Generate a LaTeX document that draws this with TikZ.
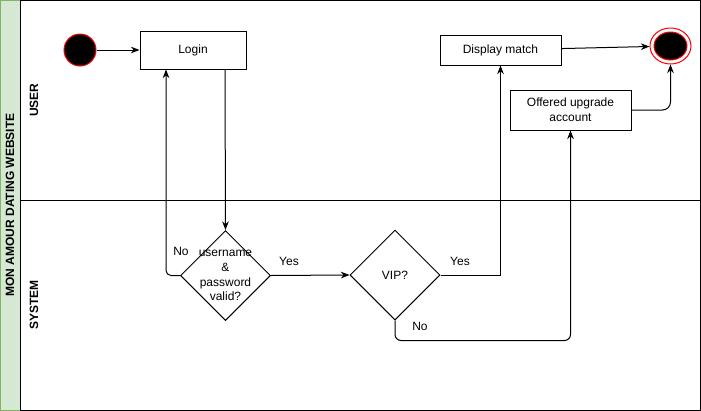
\documentclass[tikz,border=0pt]{standalone}
\usepackage{fontspec}
\setmainfont{Liberation Sans}
\usetikzlibrary{shapes.geometric,arrows.meta}
\def\pxl{0.75pt}
\definecolor{poolfill}{HTML}{D5E8D4}
\definecolor{pooledge}{HTML}{82B366}
\tikzset{
  actbox/.style={draw, inner sep=0pt, align=center},
  decision/.style={draw, diamond, aspect=1, inner sep=0pt, minimum width=90*\pxl, minimum height=90*\pxl},
  startdot/.style={circle, draw=red, fill=black, inner sep=0pt, minimum size=32*\pxl},
  endring/.style={ellipse, draw=red, inner sep=0pt, minimum width=41*\pxl, minimum height=36*\pxl},
  endcore/.style={ellipse, draw=red, fill=black, inner sep=0pt, minimum width=33*\pxl, minimum height=28*\pxl},
  lanetxt/.style={rotate=90, font=\bfseries\fontsize{9}{11}\selectfont},
  flow/.style={-{Stealth[length=6.5pt,width=5pt]}},
}

\begin{document}
\begin{tikzpicture}[x=\pxl, y=-\pxl, line width=0.75pt, font=\fontsize{9}{11}\selectfont]
\useasboundingbox (0,0) rectangle (701,411);

% pool and lanes
\draw[fill=poolfill, draw=pooledge] (0.5,0.5) rectangle (20,410);
\draw (20,0.5) rectangle (700,410);
\draw (20,200) -- (700,200);
\node[lanetxt] (pool) at (10,205) {MON AMOUR DATING WEBSITE};
\node[lanetxt] (userlane) at (34,100) {USER};
\node[lanetxt] (syslane) at (34,305) {SYSTEM};

% user lane
\node[startdot] (start) at (80,50) {};
\node[actbox, minimum width=106*\pxl, minimum height=38*\pxl] (login) at (193,50) {Login};
\node[actbox, minimum width=121*\pxl, minimum height=30*\pxl] (display) at (500.5,50) {Display match};
\node[actbox, minimum width=121*\pxl, minimum height=40*\pxl] (upgrade) at (570.5,110) {Offered upgrade\\account};
\node[endring] (end) at (670.5,46) {};
\node[endcore] (endc) at (end) {};

% system lane
\node[decision] (cred) at (225.5,275.5) {};
\node[align=center] (credtxt) at (cred) {username\\\&\\password\\valid?};
\node[decision] (vip) at (395,275) {};
\node (viptxt) at (vip) {VIP?};

\coordinate (loginout) at ([xshift=32*\pxl]login.south);
\coordinate (loginin) at ([xshift=-27*\pxl]login.south);

\draw[flow] (start) -- (login);
\draw[flow] (loginout) -- (cred.north);
\draw[flow, rounded corners=5*\pxl] (cred.west) -| (loginin);
\draw[flow] (cred.east) -- (vip.west);
\draw[flow] (vip.east) -| (display.south);
\draw[flow, rounded corners=6*\pxl] (vip.south) -- ++(0,20) -| (upgrade.south);
\draw[flow] (display) -- (end);
\draw[flow, rounded corners=8*\pxl] (upgrade.east) -| (end.south);

\node (credno) at (181,251) {No};
\node (credyes) at (289,261) {Yes};
\node (vipyes) at (460,261) {Yes};
\node (vipno) at (420,326) {No};

\end{tikzpicture}
\end{document}
